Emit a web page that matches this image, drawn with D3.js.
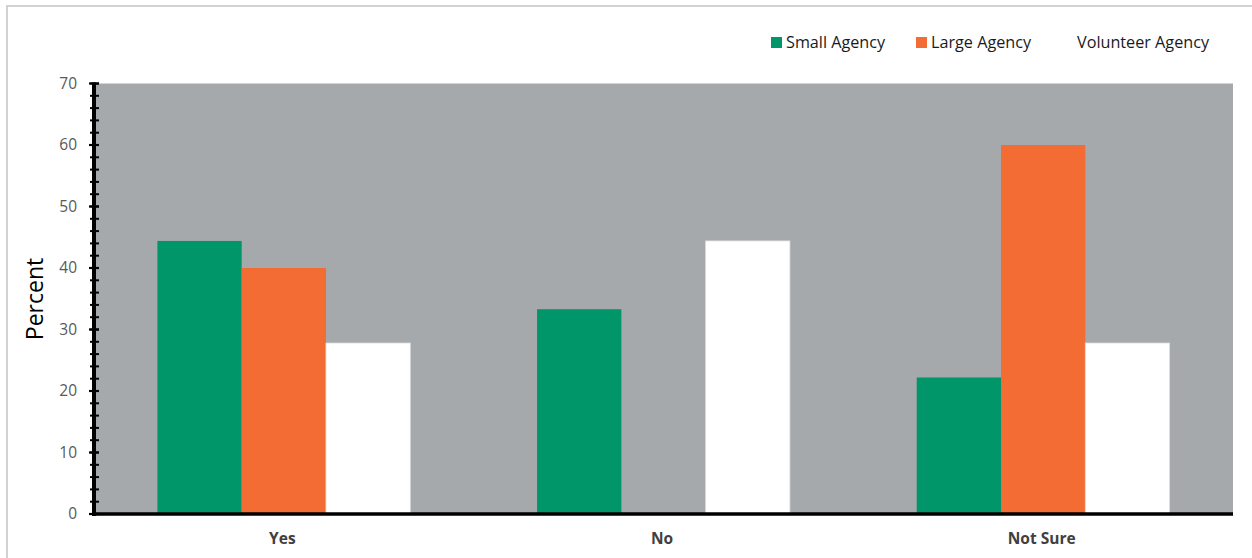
<!DOCTYPE html>
<html>
<head>
<meta charset="utf-8">
<script src="https://cdn.jsdelivr.net/npm/d3@7"></script>
<style>
  html, body { margin: 0; padding: 0; background: #fff; }
  svg { display: block; }
  text { font-family: "Open Sans", "Lato", sans-serif; }
</style>
</head>
<body>
<svg id="chart" width="1252" height="558"></svg>
<script>
// Survey responses by agency type (percent)
const categories = ["Yes", "No", "Not Sure"];
const seriesNames = ["Small Agency", "Large Agency", "Volunteer Agency"];
const smallAgency = [44.4, 33.3, 22.2];
const largeAgency = [40.0, 0, 60.0];
const volunteerAgency = [27.8, 44.4, 27.8];
const yTicks = [0, 10, 20, 30, 40, 50, 60, 70];
const seriesColors = ["#009669", "#F26C33", "#FFFFFF"];

const series = [smallAgency, largeAgency, volunteerAgency];

const svg = d3.select("#chart");
const plot = { left: 94, right: 1233, top: 83.5, bottom: 514 };

// outer frame (left and top edges visible)
svg.append("rect")
  .attr("x", 7).attr("y", 6)
  .attr("width", 1300).attr("height", 600)
  .attr("fill", "none").attr("stroke", "#c3c3c3").attr("stroke-width", 1.5);

const x0 = d3.scaleBand().domain(categories)
  .range([plot.left, plot.right])
  .paddingInner(0.334).paddingOuter(0.167);
const x1 = d3.scaleBand().domain(seriesNames).range([0, x0.bandwidth()]).padding(0);
const y = d3.scaleLinear().domain([0, 70]).range([plot.bottom, plot.top]);

// plot background
svg.append("rect")
  .attr("x", plot.left).attr("y", y(70))
  .attr("width", plot.right - plot.left).attr("height", y(0) - y(70))
  .attr("fill", "#A5A9AC");

// bars
const groups = svg.append("g").selectAll("g")
  .data(categories).join("g")
  .attr("transform", d => `translate(${x0(d)},0)`);

groups.selectAll("rect")
  .data((c, i) => seriesNames.map((s, j) => ({ s, j, v: series[j][i] })))
  .join("rect")
  .attr("x", d => x1(d.s))
  .attr("y", d => y(d.v))
  .attr("width", x1.bandwidth())
  .attr("height", d => y(0) - y(d.v))
  .attr("fill", d => seriesColors[d.j])
  .attr("stroke", d => d.j === 2 && d.v > 0 ? "#dedede" : "none")
  .attr("stroke-width", 0.8);

// y axis with major and minor ticks
const yAxisG = svg.append("g");
const minor = d3.range(0, 70.001, 2);
yAxisG.selectAll("line.minor")
  .data(minor).join("line")
  .attr("x1", 90).attr("x2", 99)
  .attr("y1", d => y(d)).attr("y2", d => y(d))
  .attr("stroke", "#000").attr("stroke-width", 2);
yAxisG.selectAll("line.major")
  .data(yTicks).join("line")
  .attr("x1", 89).attr("x2", 99)
  .attr("y1", d => y(d)).attr("y2", d => y(d))
  .attr("stroke", "#000").attr("stroke-width", 2.2);
yAxisG.append("line")
  .attr("x1", 94).attr("x2", 94)
  .attr("y1", y(70) - 1).attr("y2", y(0) + 2)
  .attr("stroke", "#000").attr("stroke-width", 4);
yAxisG.selectAll("text")
  .data(yTicks).join("text")
  .attr("x", 77).attr("y", d => y(d))
  .attr("dy", "0.35em")
  .attr("text-anchor", "end")
  .attr("font-size", 15.5)
  .attr("fill", "#595959")
  .text(d => d);

// x axis baseline
svg.append("line")
  .attr("x1", 92).attr("x2", plot.right)
  .attr("y1", y(0)).attr("y2", y(0))
  .attr("stroke", "#000").attr("stroke-width", 3.5);

// category labels
svg.append("g").selectAll("text")
  .data(categories).join("text")
  .attr("x", d => x0(d) + x0.bandwidth() / 2 - 1.5)
  .attr("y", 544)
  .attr("text-anchor", "middle")
  .attr("font-size", 15.5)
  .attr("font-weight", "bold")
  .attr("fill", "#404040")
  .text(d => d);

// y axis title
svg.append("text")
  .attr("transform", "translate(43,299) rotate(-90)")
  .attr("text-anchor", "middle")
  .attr("font-size", 23)
  .attr("fill", "#000")
  .text("Percent");

// legend
const legendX = [771, 916, 1062];
const legend = svg.append("g").selectAll("g")
  .data(seriesNames).join("g")
  .attr("transform", (d, i) => `translate(${legendX[i]},37)`);
legend.append("rect")
  .attr("width", 11).attr("height", 11)
  .attr("fill", (d, i) => seriesColors[i]);
legend.append("text")
  .attr("x", 15).attr("y", 11)
  .attr("font-size", 16.2)
  .attr("fill", "#1a1a1a")
  .text(d => d);
</script>
</body>
</html>
